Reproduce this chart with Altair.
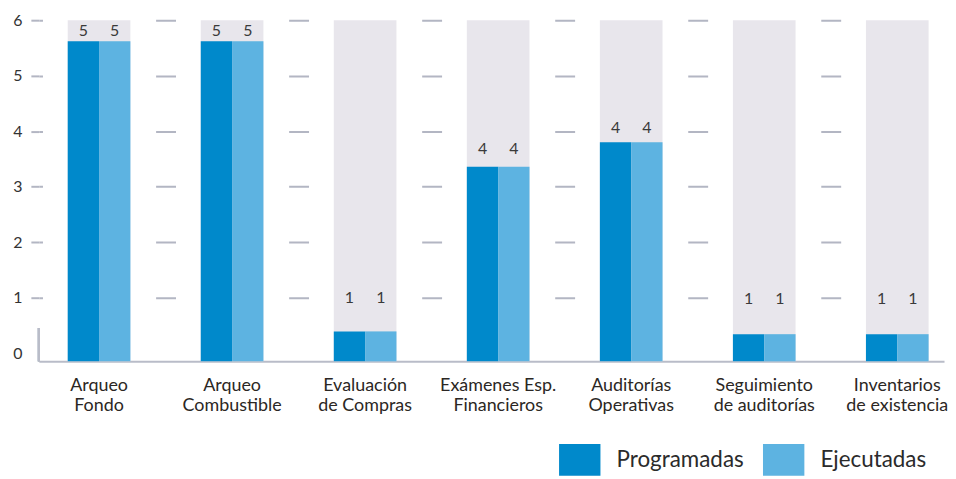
import altair as alt
import pandas as pd

# ---- data ----
categories = [
    "Arqueo\nFondo",
    "Arqueo\nCombustible",
    "Evaluación\nde Compras",
    "Exámenes Esp.\nFinancieros",
    "Auditorías\nOperativas",
    "Seguimiento\nde auditorías",
    "Inventarios\nde existencia",
]
series = ["Programadas", "Ejecutadas"]
programadas = [5.62, 5.62, 0.39, 3.36, 3.80, 0.34, 0.34]
ejecutadas = [5.62, 5.62, 0.39, 3.36, 3.80, 0.34, 0.34]
label_programadas = ["5", "5", "1", "4", "4", "1", "1"]
label_ejecutadas = ["5", "5", "1", "4", "4", "1", "1"]
label_height = [5.80, 5.80, 1.0, 3.67, 4.05, 0.97, 0.97]
y_ticks = [0, 1, 2, 3, 4, 5, 6]
Y_MAX = 6
BASE = -0.15

rows = []
for i, c in enumerate(categories):
    rows.append({"cat": c, "series": "Programadas", "value": programadas[i],
                 "label": label_programadas[i], "label_y": label_height[i]})
    rows.append({"cat": c, "series": "Ejecutadas", "value": ejecutadas[i],
                 "label": label_ejecutadas[i], "label_y": label_height[i]})
df = pd.DataFrame(rows)
bg = pd.DataFrame({"cat": categories, "top": [Y_MAX] * len(categories)})

FONT = "Lato"
GRID = "#b3b6c3"

no_zero = {"condition": {"test": "datum.value === 0", "value": 0}, "value": 1}

x_enc = alt.X(
    "cat:N",
    sort=categories,
    scale=alt.Scale(paddingInner=0.529, paddingOuter=0.1665, align=0.652),
    axis=alt.Axis(
        title=None,
        labelExpr="split(datum.label, '\\n')",
        labelFont=FONT,
        labelFontSize=18,
        labelColor="#2b2724",
        labelPadding=15,
        labelLineHeight=20,
        labelAngle=0,
        labelLimit=0,
        ticks=False,
        domainColor="#b9bcc8",
        domainWidth=2,
        grid=False,
    ),
)

y_scale = alt.Scale(domain=[BASE, Y_MAX], nice=False, zero=False)
y_axis = alt.Axis(
    values=y_ticks,
    format="d",
    title=None,
    domain=False,
    tickSize=8,
    tickColor=GRID,
    tickWidth=2,
    tickOpacity=no_zero,
    grid=True,
    gridColor=GRID,
    gridWidth=2,
    gridDash=[20, 113.74],
    gridDashOffset=16.34,
    gridOpacity=no_zero,
    labelFont=FONT,
    labelFontSize=16,
    labelColor="#333333",
    labelPadding=9,
)

background = alt.Chart(bg).mark_bar(color="#e8e6ec").encode(
    x=x_enc,
    y=alt.Y("top:Q", scale=y_scale, axis=y_axis),
    y2=alt.datum(BASE),
)

bars = alt.Chart(df).mark_bar().encode(
    x=x_enc,
    xOffset=alt.XOffset("series:N", sort=series),
    y=alt.Y("value:Q", scale=y_scale, axis=y_axis),
    y2=alt.datum(BASE),
    color=alt.Color(
        "series:N",
        sort=series,
        scale=alt.Scale(domain=series, range=["#0089cb", "#5db3e1"]),
        legend=alt.Legend(
            title=None,
            orient="none",
            legendX=527.8,
            legendY=426,
            direction="horizontal",
            symbolType="M-1.3,-1L1.3,-1L1.3,1L-1.3,1Z",
            symbolSize=1024,
            symbolStrokeWidth=0,
            symbolOpacity=1,
            labelFont=FONT,
            labelFontSize=22.5,
            labelColor="#2b2b2b",
            labelOffset=21,
            columnPadding=19,
            padding=0,
            labelLimit=0,
        ),
    ),
)

labels = alt.Chart(df).mark_text(
    font=FONT, fontSize=16, color="#3a3a3a", baseline="middle"
).encode(
    x=x_enc,
    xOffset=alt.XOffset("series:N", sort=series),
    y=alt.Y("label_y:Q", scale=y_scale, axis=y_axis),
    text="label:N",
)

stub = alt.Chart(bg).mark_rule(color="#b9bcc8", strokeWidth=2).encode(
    x=alt.value(0),
    y=alt.datum(BASE),
    y2=alt.datum(0.45),
)

chart = alt.layer(background, bars, labels, stub).properties(
    width=910,
    height=343,
    padding={"left": 4, "top": 3, "right": 0, "bottom": 0},
).configure_view(stroke=None)

chart.save("out.html", embed_options={"renderer": "svg", "actions": False})
